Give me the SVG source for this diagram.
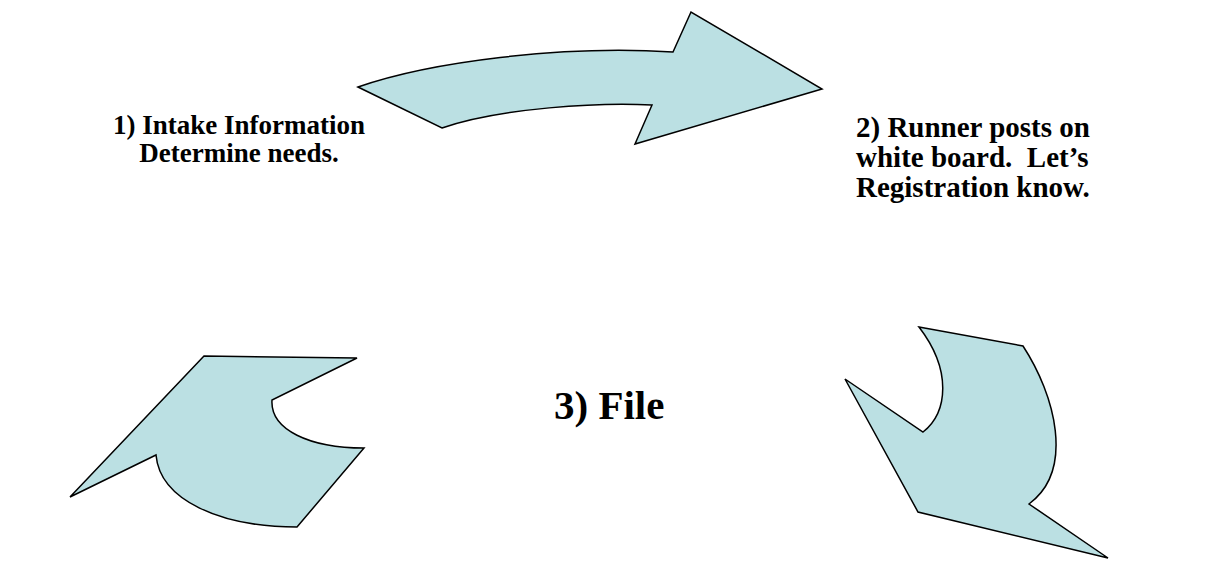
<svg xmlns="http://www.w3.org/2000/svg" width="1205" height="561" viewBox="0 0 1205 561">
<style>
.arrow{fill:#BBE0E3;stroke:#000;stroke-width:1.5;stroke-linejoin:miter}
text{font-family:'Liberation Serif','Times New Roman','DejaVu Serif',serif;font-weight:bold;fill:#000}
</style>
<rect width="1205" height="561" fill="#fff"/>
<g id="connectors">
<path id="arrow-top" class="arrow" d="M358,87 C430,62 560,45 673,52 L691,12 L822,89 L635,144 L652,105 C600,102 500,108 442,128 Z"/>
<path id="arrow-right" class="arrow" d="M919,327 L1023,346 C1055,395 1075,470 1029,504 L1108,558 L918,512 L845,379 L923,432 C948,412 952,370 919,327 Z"/>
<path id="arrow-left" class="arrow" d="M204,356 L357,358 L272,400 C270,430 310,448 364,448 L297,527 C220,527 160,500 156,455 L70,497 Z"/>
</g>
<g id="node1">
<text font-family="Liberation Serif, serif" font-weight="bold" font-size="27" text-anchor="middle"><tspan x="239" y="134">1) Intake Information</tspan><tspan x="239" y="162">Determine needs.</tspan></text>
</g>
<g id="node2">
<text font-family="Liberation Serif, serif" font-weight="bold" font-size="29" xml:space="preserve"><tspan x="856" y="137">2) Runner posts on</tspan><tspan x="856" y="167">white board.  Let’s</tspan><tspan x="856" y="197">Registration know.</tspan></text>
</g>
<g id="node3">
<text font-family="Liberation Serif, serif" font-weight="bold" font-size="41" x="554" y="419">3) File</text>
</g>
</svg>
